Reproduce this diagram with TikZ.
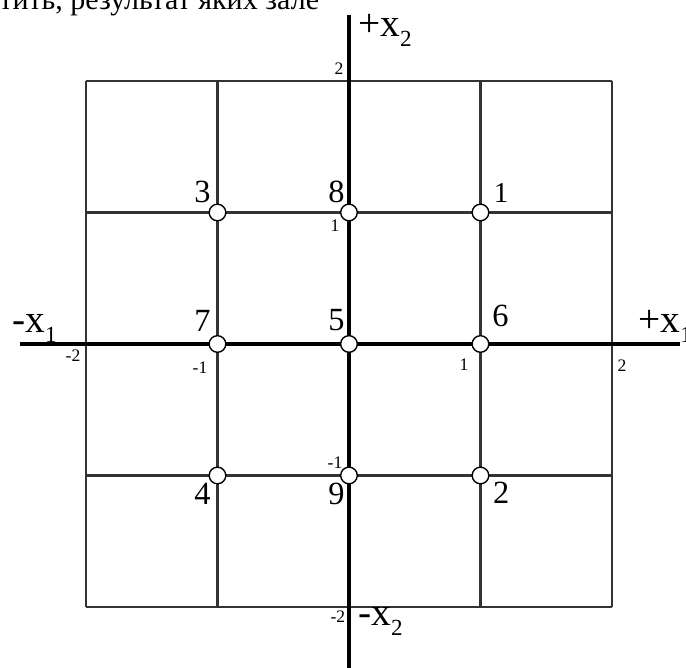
\documentclass[tikz,border=0pt]{standalone}
\usepackage{fontspec}
\setmainfont{Liberation Serif}
\usetikzlibrary{positioning}
\newcommand{\axsub}[1]{\raisebox{-4.3pt}{\fontsize{10}{10}\selectfont #1}}

\begin{document}
\begin{tikzpicture}[x=2cm, y=2cm,
    gridln/.style={draw=black!80, line width=0.9pt},
    axis/.style={line width=1.7pt},
    pt/.style={circle, draw, fill=white, line width=0.6pt, minimum size=7.2pt, inner sep=0pt},
    num/.style={font=\fontsize{14}{14}\selectfont, inner sep=0pt},
    tck/.style={font=\fontsize{7.6}{8}\selectfont, inner sep=0pt},
    axlbl/.style={font=\fontsize{17}{17}\selectfont, inner sep=0pt, anchor=base west}
]
\useasboundingbox (-2.654,-2.464) rectangle (2.563,2.616);

% cut line of the text above
\node[font=\fontsize{13}{13}\selectfont, inner sep=0pt, anchor=base west] (txt) at (-2.662,2.54) {тить, результат яких зале};

\draw[gridln, xstep=2cm, ystep=2cm] (-2,-2) grid (2,2);

\coordinate (xl) at (-2.502,0);
\coordinate (xr) at (2.517,0);
\coordinate (yt) at (0,2.502);
\coordinate (yb) at (0,-2.6);
\draw[axis] (xl) -- (xr);
\draw[axis] (yt) -- (yb);

\node[axlbl] (xneg) at (-2.563,0.084) {-x\axsub{1}};
\node[axlbl] (xpos) at (2.198,0.084) {+x\axsub{1}};
\node[axlbl] (ypos) at (0.068,2.335) {+x\axsub{2}};
\node[axlbl] (yneg) at (0.068,-2.144) {-x\axsub{2}};

% ticks
\node[tck] (ty2) at (-0.076,2.091) {2};
\node[tck] (ty1) at (-0.106,0.897) {1};
\node[tck] (tym1) at (-0.106,-0.905) {-1};
\node[tck] (tym2) at (-0.084,-2.076) {-2};
\node[tck] (txm2) at (-2.099,-0.091) {-2};
\node[tck] (txm1) at (-1.133,-0.183) {-1};
\node[tck] (tx1) at (0.875,-0.160) {1};
\node[tck] (tx2) at (2.076,-0.167) {2};

% points
\node[pt] (p1) at (1,1) {};
\node[pt] (p2) at (1,-1) {};
\node[pt] (p3) at (-1,1) {};
\node[pt] (p4) at (-1,-1) {};
\node[pt] (p5) at (0,0) {};
\node[pt] (p6) at (1,0) {};
\node[pt] (p7) at (-1,0) {};
\node[pt] (p8) at (0,1) {};
\node[pt] (p9) at (0,-1) {};

\node[num, font=\fontsize{12.5}{13}\selectfont, above right=1.3pt and 2.8pt of p1] (l1) {1};
\node[num, below right=0pt and 2.5pt of p2] (l2) {2};
\node[num, above left=1.3pt and 0pt of p3] (l3) {3};
\node[num, below left=0.5pt and 0pt of p4] (l4) {4};
\node[num, above left=2.6pt and -1pt of p5] (l5) {5};
\node[num, above right=4.3pt and 2.2pt of p6] (l6) {6};
\node[num, above left=2.6pt and 0pt of p7] (l7) {7};
\node[num, above left=1.3pt and -1pt of p8] (l8) {8};
\node[num, below left=0.5pt and -1pt of p9] (l9) {9};
\end{tikzpicture}
\end{document}
